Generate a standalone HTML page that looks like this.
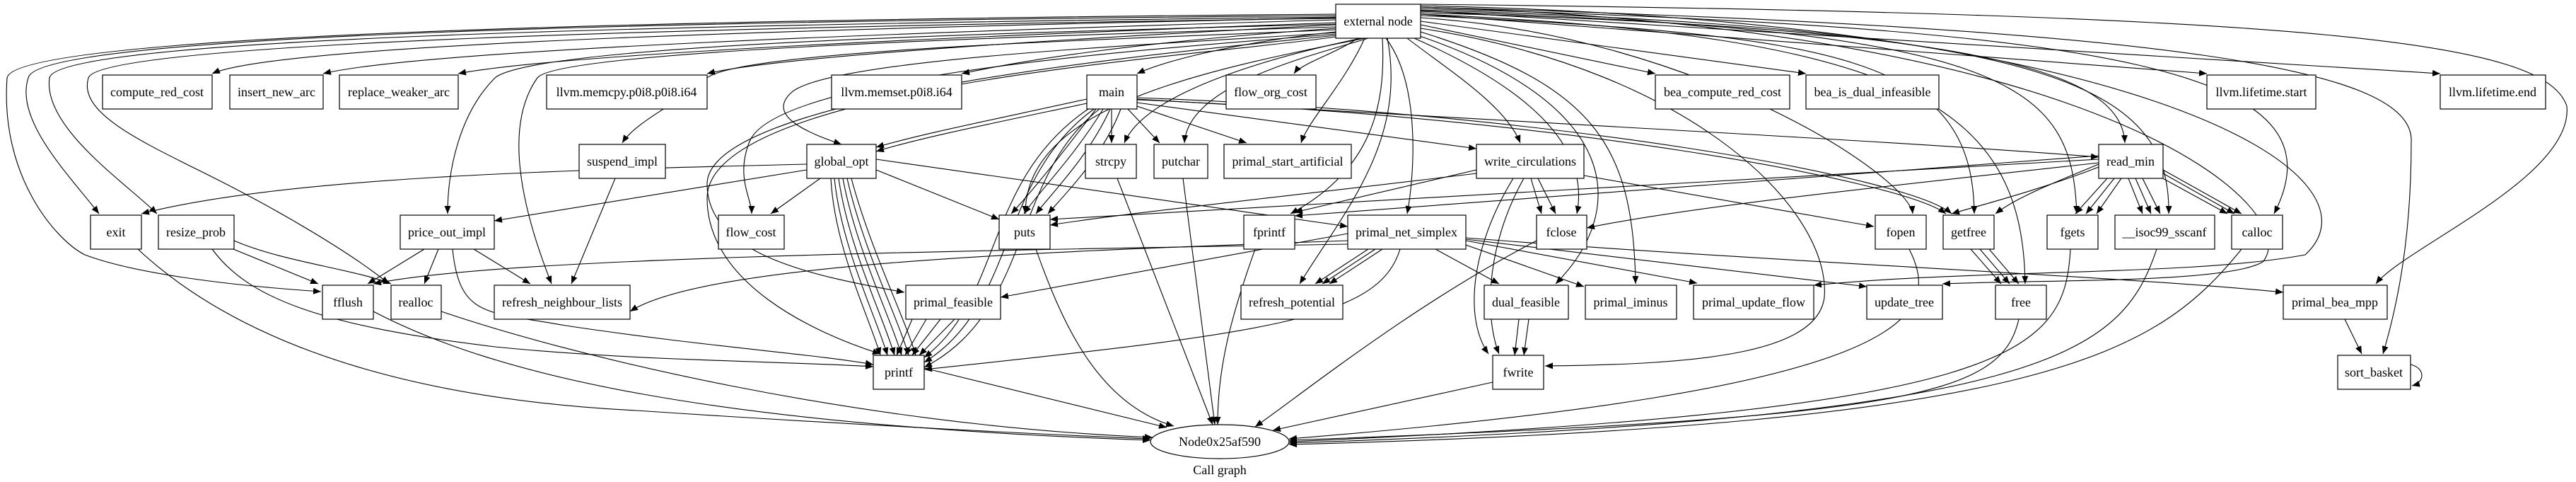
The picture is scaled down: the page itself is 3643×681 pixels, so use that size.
<!DOCTYPE html>
<html><head><meta charset="utf-8"><style>
html,body{margin:0;padding:0;background:#fff;}
svg{display:block;}
text{font-family:"Liberation Serif","DejaVu Serif",serif;font-size:18px;fill:#000;}
</style></head><body>
<svg width="3643" height="681" viewBox="0 0 3643 681" xmlns="http://www.w3.org/2000/svg">
<defs><marker id="a" markerUnits="userSpaceOnUse" markerWidth="12" markerHeight="10" refX="11" refY="4.5" orient="auto"><path d="M0,0 L11,4.5 L0,9 z" fill="#000"/></marker></defs>
<g fill="none" stroke="#000" stroke-width="1.1" marker-end="url(#a)">
<path d="M1889 25 C1200 40,400 60,300 104"/>
<path d="M1889 28 C1300 45,600 70,457 104"/>
<path d="M1889 32 C1400 50,800 75,648 104"/>
<path d="M1889 35 C1500 55,1100 80,1000 104"/>
<path d="M1889 40 C1600 60,1450 85,1360 104"/>
<path d="M1889 45 C1750 60,1650 85,1608 104"/>
<path d="M1920 54 C1890 75,1840 90,1830 104"/>
<path d="M1930 54 C1900 120,1850 170,1840 202"/>
<path d="M1889 22 C900 30,50 50,40 110 C20 170,100 250,140 302"/>
<path d="M1889 24 C900 35,80 55,70 110 C60 180,180 260,222 302"/>
<path d="M1889 20 C900 28,20 50,10 110 C0 250,80 340,120 360 C200 390,350 405,454 412"/>
<path d="M1889 26 C1000 38,140 60,125 110 C110 160,200 200,300 250 C400 300,500 360,550 401"/>
<path d="M1889 34 C1500 45,760 60,700 110 C650 160,633 240,633 302"/>
<path d="M1889 38 C1500 50,790 70,760 110 C710 180,740 300,780 401"/>
<path d="M1889 42 C1600 55,1050 70,1000 110 C970 140,900 170,880 202"/>
<path d="M1889 46 C1700 60,1180 80,1120 130 C1080 165,1150 190,1190 204"/>
<path d="M1889 48 C1700 65,1100 100,1060 200 C1040 250,1063 280,1063 302"/>
<path d="M1889 50 C1700 70,1000 130,1000 260 C1000 360,1150 390,1279 413"/>
<path d="M1889 52 C1700 80,1000 120,1000 280 C1000 400,1150 470,1245 500"/>
<path d="M1930 54 C1700 100,1450 150,1450 302"/>
<path d="M1925 54 C1800 80,1620 130,1590 202"/>
<path d="M1935 54 C1850 80,1680 120,1675 202"/>
<path d="M1990 54 C2050 100,2130 150,2150 202"/>
<path d="M1960 54 C2010 120,2000 250,1990 302"/>
<path d="M1955 54 C1960 150,1940 240,1825 302"/>
<path d="M1962 54 C1990 200,1900 300,1838 401"/>
<path d="M2000 54 C2150 120,2250 200,2230 302"/>
<path d="M2005 50 C2300 150,2300 300,2200 401"/>
<path d="M2009 45 C2250 120,2310 200,2313 401"/>
<path d="M2009 40 C2400 100,2590 300,2580 420 C2570 500,2400 515,2185 517"/>
<path d="M2009 35 L2341 104"/>
<path d="M2009 30 L2554 104"/>
<path d="M2009 25 C2400 50,2700 250,2705 302"/>
<path d="M2009 22 C2600 50,2790 80,2792 302"/>
<path d="M2009 20 C2700 50,2860 150,2864 401"/>
<path d="M2009 18 C2800 40,3000 100,3005 202"/>
<path d="M2009 16 C2850 40,2930 120,2937 302"/>
<path d="M2009 14 C2900 40,3070 120,3067 302"/>
<path d="M2009 12 C3000 40,3320 100,3216 302"/>
<path d="M2009 10 C3000 40,3260 300,3200 370 C3150 400,2900 395,2747 401"/>
<path d="M2009 8 C3050 30,3380 250,3260 360 C3100 390,2800 380,2565 403"/>
<path d="M2009 10 C3100 40,3415 100,3410 200 C3410 300,3400 400,3370 500"/>
<path d="M2009 20 L3121 104"/>
<path d="M2009 15 L3451 104"/>
<path d="M2009 6 C3300 20,3600 60,3630 150 C3640 250,3400 350,3360 401"/>
<path d="M1537 140 C1400 170,1300 190,1239 208"/>
<path d="M1537 146 C1400 175,1300 195,1239 214"/>
<path d="M1572 154 L1572 202"/>
<path d="M1595 154 L1640 202"/>
<path d="M1608 150 L1763 202"/>
<path d="M1550 154 C1500 220,1460 270,1430 302"/>
<path d="M1560 154 C1520 220,1470 270,1448 302"/>
<path d="M1570 154 C1540 220,1490 270,1465 302"/>
<path d="M1585 154 C1560 220,1510 270,1482 302"/>
<path d="M1545 150 C1390 250,1420 420,1307 505"/>
<path d="M1550 152 C1410 250,1440 430,1307 512"/>
<path d="M1555 154 C1430 250,1460 440,1307 519"/>
<path d="M1608 145 L2088 210"/>
<path d="M1608 140 C2100 170,2700 200,2968 222"/>
<path d="M1608 138 C2200 160,2700 250,2760 302"/>
<path d="M1608 141 C2200 165,2690 255,2752 302"/>
<path d="M1141 232 C800 240,400 250,200 302"/>
<path d="M1141 240 L699 312"/>
<path d="M1160 252 L1090 302"/>
<path d="M1175 252 C1180 350,1230 450,1245 502"/>
<path d="M1180 252 C1190 350,1240 450,1255 502"/>
<path d="M1186 252 C1200 350,1250 450,1265 502"/>
<path d="M1192 252 C1210 350,1260 450,1275 502"/>
<path d="M1198 252 C1220 350,1270 450,1285 502"/>
<path d="M1204 252 C1230 350,1280 450,1295 502"/>
<path d="M1239 240 L1413 310"/>
<path d="M1239 225 L1906 320"/>
<path d="M600 352 L520 401"/>
<path d="M620 352 L600 401"/>
<path d="M670 352 L750 401"/>
<path d="M640 352 C650 450,690 440,800 460 C1000 490,1150 500,1235 515"/>
<path d="M330 352 L450 401"/>
<path d="M331 340 C400 370,500 380,553 401"/>
<path d="M300 352 C350 420,450 460,700 490 C900 510,1100 510,1235 518"/>
<path d="M870 252 L808 401"/>
<path d="M195 352 C300 450,500 560,900 580 C1200 600,1500 615,1627 620"/>
<path d="M528 440 C700 530,1000 600,1627 622"/>
<path d="M624 440 C800 500,1200 600,1630 618"/>
<path d="M1307 520 L1650 604"/>
<path d="M1465 352 C1500 450,1550 570,1660 602"/>
<path d="M1580 252 L1715 600"/>
<path d="M1673 252 L1718 600"/>
<path d="M1775 352 C1740 450,1722 520,1722 600"/>
<path d="M2111 540 L1800 608"/>
<path d="M2173 340 C2000 430,1850 550,1775 603"/>
<path d="M2855 451 C2830 560,2700 590,1823 622"/>
<path d="M2928 352 C2920 500,2850 580,1823 624"/>
<path d="M3050 352 C3000 500,2900 590,1823 626"/>
<path d="M3170 352 C3050 500,2900 600,1823 628"/>
<path d="M2700 352 C2750 450,2700 550,1823 620"/>
<path d="M1290 451 L1268 502"/>
<path d="M1310 451 L1280 502"/>
<path d="M1330 451 L1290 502"/>
<path d="M1350 451 L1300 502"/>
<path d="M1906 330 L1415 420"/>
<path d="M1906 340 C1500 355,1000 370,891 440"/>
<path d="M1906 345 C1300 355,700 365,528 401"/>
<path d="M1935 352 L1860 401"/>
<path d="M1945 352 L1870 401"/>
<path d="M1955 352 L1880 401"/>
<path d="M2030 352 L2120 401"/>
<path d="M2070 345 L2240 405"/>
<path d="M2073 340 L2400 400"/>
<path d="M2073 338 L2640 405"/>
<path d="M2073 336 C2500 370,3000 390,3229 413"/>
<path d="M1980 352 C1950 450,1800 470,1307 522"/>
<path d="M2088 240 L1831 300"/>
<path d="M2088 245 C1800 280,1600 300,1485 318"/>
<path d="M2165 252 L2180 302"/>
<path d="M2175 252 L2200 302"/>
<path d="M2240 248 L2650 320"/>
<path d="M2140 252 C2080 350,2070 450,2105 500"/>
<path d="M2155 252 C2100 350,2100 450,2120 500"/>
<path d="M2148 451 L2142 502"/>
<path d="M2162 451 L2155 502"/>
<path d="M2968 232 C2900 260,2850 280,2822 302"/>
<path d="M2968 236 C2880 270,2800 290,2760 302"/>
<path d="M2980 252 L2935 302"/>
<path d="M2990 252 L2950 302"/>
<path d="M3000 252 L2965 302"/>
<path d="M3010 252 L3030 302"/>
<path d="M3020 252 L3042 302"/>
<path d="M3030 252 L3055 302"/>
<path d="M3055 250 L3150 302"/>
<path d="M3059 245 L3160 302"/>
<path d="M3059 240 L3170 302"/>
<path d="M2968 230 C2700 260,2400 290,2244 322"/>
<path d="M2968 225 L1485 310"/>
<path d="M2968 220 L1831 305"/>
<path d="M2787 352 L2830 401"/>
<path d="M2800 352 L2842 401"/>
<path d="M2813 352 L2855 401"/>
<path d="M3316 451 L3340 500"/>
<path d="M3409 515 C3430 520,3430 540,3411 545"/>
</g>
<g fill="#fff" stroke="#000" stroke-width="1.2">
<rect x="1889" y="6" width="120" height="48"/>
<rect x="145" y="106" width="155" height="48"/>
<rect x="325" y="106" width="132" height="48"/>
<rect x="480" y="106" width="168" height="48"/>
<rect x="773" y="106" width="227" height="48"/>
<rect x="1176" y="106" width="184" height="48"/>
<rect x="1537" y="106" width="71" height="48"/>
<rect x="1734" y="106" width="127" height="48"/>
<rect x="2341" y="106" width="190" height="48"/>
<rect x="2554" y="106" width="188" height="48"/>
<rect x="3121" y="106" width="154" height="48"/>
<rect x="3451" y="106" width="149" height="48"/>
<rect x="819" y="204" width="122" height="48"/>
<rect x="1141" y="204" width="98" height="48"/>
<rect x="1535" y="204" width="72" height="48"/>
<rect x="1632" y="204" width="76" height="48"/>
<rect x="1731" y="204" width="180" height="48"/>
<rect x="2088" y="204" width="152" height="48"/>
<rect x="2968" y="204" width="91" height="48"/>
<rect x="128" y="304" width="72" height="48"/>
<rect x="224" y="304" width="107" height="48"/>
<rect x="566" y="304" width="133" height="48"/>
<rect x="1016" y="304" width="93" height="48"/>
<rect x="1413" y="304" width="72" height="48"/>
<rect x="1759" y="304" width="72" height="48"/>
<rect x="1906" y="304" width="167" height="48"/>
<rect x="2173" y="304" width="71" height="48"/>
<rect x="2652" y="304" width="72" height="48"/>
<rect x="2748" y="304" width="72" height="48"/>
<rect x="2895" y="304" width="72" height="48"/>
<rect x="2991" y="304" width="141" height="48"/>
<rect x="3156" y="304" width="72" height="48"/>
<rect x="456" y="403" width="72" height="48"/>
<rect x="553" y="403" width="71" height="48"/>
<rect x="699" y="403" width="192" height="48"/>
<rect x="1281" y="403" width="134" height="48"/>
<rect x="1755" y="403" width="144" height="48"/>
<rect x="2099" y="403" width="119" height="48"/>
<rect x="2242" y="403" width="129" height="48"/>
<rect x="2395" y="403" width="170" height="48"/>
<rect x="2640" y="403" width="107" height="48"/>
<rect x="2822" y="403" width="72" height="48"/>
<rect x="3229" y="403" width="147" height="48"/>
<rect x="1235" y="502" width="72" height="48"/>
<rect x="2111" y="502" width="72" height="48"/>
<rect x="3306" y="502" width="103" height="48"/>
<ellipse cx="1725" cy="624" rx="98" ry="24"/>
</g>
<g text-anchor="middle" dominant-baseline="central">
<text x="1949" y="30">external node</text>
<text x="222" y="130">compute_red_cost</text>
<text x="391" y="130">insert_new_arc</text>
<text x="564" y="130">replace_weaker_arc</text>
<text x="886" y="130">llvm.memcpy.p0i8.p0i8.i64</text>
<text x="1268" y="130">llvm.memset.p0i8.i64</text>
<text x="1572" y="130">main</text>
<text x="1797" y="130">flow_org_cost</text>
<text x="2436" y="130">bea_compute_red_cost</text>
<text x="2648" y="130">bea_is_dual_infeasible</text>
<text x="3198" y="130">llvm.lifetime.start</text>
<text x="3525" y="130">llvm.lifetime.end</text>
<text x="880" y="228">suspend_impl</text>
<text x="1190" y="228">global_opt</text>
<text x="1571" y="228">strcpy</text>
<text x="1670" y="228">putchar</text>
<text x="1821" y="228">primal_start_artificial</text>
<text x="2164" y="228">write_circulations</text>
<text x="3013" y="228">read_min</text>
<text x="164" y="328">exit</text>
<text x="277" y="328">resize_prob</text>
<text x="632" y="328">price_out_impl</text>
<text x="1062" y="328">flow_cost</text>
<text x="1449" y="328">puts</text>
<text x="1795" y="328">fprintf</text>
<text x="1989" y="328">primal_net_simplex</text>
<text x="2208" y="328">fclose</text>
<text x="2688" y="328">fopen</text>
<text x="2784" y="328">getfree</text>
<text x="2931" y="328">fgets</text>
<text x="3061" y="328">__isoc99_sscanf</text>
<text x="3192" y="328">calloc</text>
<text x="492" y="427">fflush</text>
<text x="588" y="427">realloc</text>
<text x="795" y="427">refresh_neighbour_lists</text>
<text x="1348" y="427">primal_feasible</text>
<text x="1827" y="427">refresh_potential</text>
<text x="2158" y="427">dual_feasible</text>
<text x="2306" y="427">primal_iminus</text>
<text x="2480" y="427">primal_update_flow</text>
<text x="2693" y="427">update_tree</text>
<text x="2858" y="427">free</text>
<text x="3302" y="427">primal_bea_mpp</text>
<text x="1271" y="526">printf</text>
<text x="2147" y="526">fwrite</text>
<text x="3357" y="526">sort_basket</text>
<text x="1725" y="624">Node0x25af590</text>
<text x="1725" y="664">Call graph</text>
</g>
</svg>
</body></html>
